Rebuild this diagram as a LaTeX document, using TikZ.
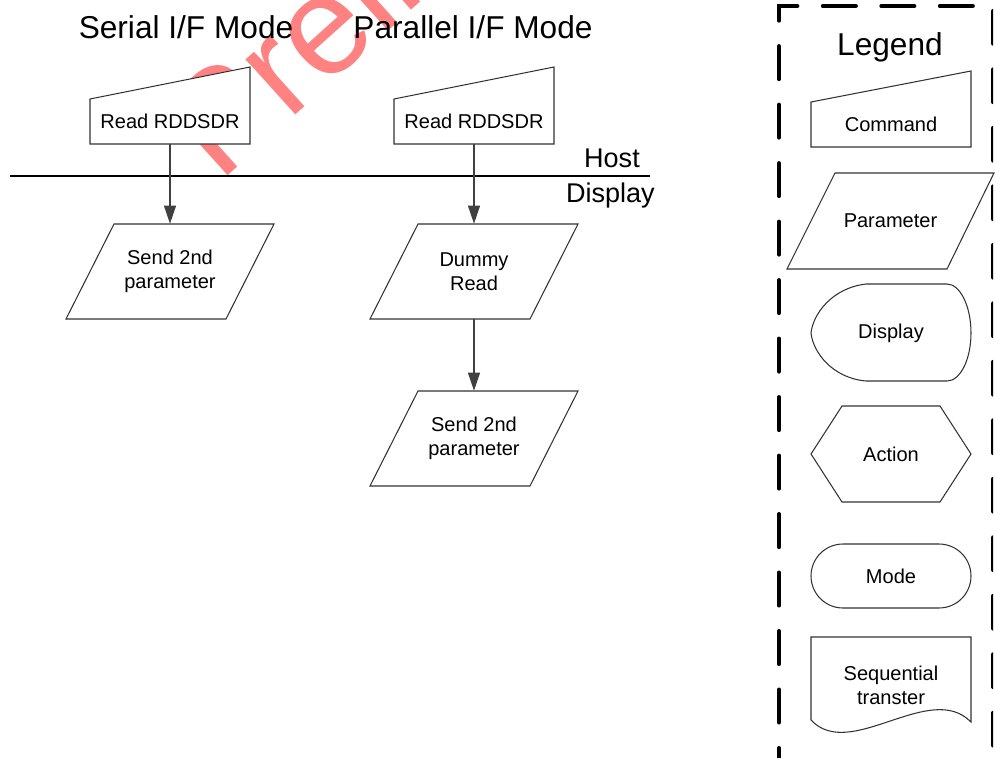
\documentclass[tikz,border=0pt]{standalone}
\usepackage{fontspec}
\setmainfont{Liberation Sans}
\usetikzlibrary{arrows.meta}
\definecolor{markred}{RGB}{255,130,130}
\newcommand\boxfont{\fontsize{11.4}{13.7}\selectfont}
\newcommand\headfont{\fontsize{18}{20}\selectfont}
\newcommand\sidefont{\fontsize{15.4}{18}\selectfont}
\tikzset{
  shape line/.style={draw=black!80,line width=0.6pt,fill=white},
  label text/.style={align=center,inner sep=0pt,font=\boxfont},
  cmdbox/.style={label text,minimum width=3.2cm,minimum height=0.9cm},
  parbox/.style={label text,minimum width=3.2cm,minimum height=1.9cm},
}

\begin{document}
\begin{tikzpicture}[x=0.02cm,y=-0.02cm,>={Triangle[length=3.6mm,width=2.4mm]},line join=miter]
\useasboundingbox (0,0) rectangle (995,758);
\begin{scope}
\clip (0,0) rectangle (993,758);
\node[text=markred,font=\fontsize{80}{80}\selectfont,rotate=42,anchor=base west,inner sep=0pt] (mark) at (219,184) {Preliminary};
\draw[line width=2.3pt,line cap=round,dash pattern=on 0.66cm off 0.51cm,dash phase=0.22cm] (779,770) -- (779,6) -- (993.5,6) -- (993.5,770);
\end{scope}
\node[font=\headfont,anchor=base] (serial) at (186,38) {Serial I/F Mode};
\node[font=\headfont,anchor=base] (parallel) at (473,38) {Parallel I/F Mode};
\draw[line width=0.8pt] (10,176) -- (650,176);
\node[font=\sidefont,anchor=base east] (host) at (646,167) {Host};
\node[font=\sidefont,anchor=base east] (disp) at (661,202) {Display};
% serial column
\draw[shape line] (90,144) -- (90,99) -- (250,67) -- (250,144) -- cycle;
\node[cmdbox] (readS) at (170,121.5) {Read RDDSDR};
\draw[shape line] (66,319) -- (114,224) -- (274,224) -- (226,319) -- cycle;
\node[parbox] (sendS) at (170,271.5) {Send 2nd\\parameter};
% parallel column
\draw[shape line] (394,144) -- (394,99) -- (554,67) -- (554,144) -- cycle;
\node[cmdbox] (readP) at (474,121.5) {Read RDDSDR};
\draw[shape line] (370,319) -- (418,224) -- (578,224) -- (530,319) -- cycle;
\node[parbox] (dummyP) at (474,271.5) {Dummy\\Read};
\draw[shape line] (370,486) -- (418,391) -- (578,391) -- (530,486) -- cycle;
\node[parbox] (sendP) at (474,438.5) {Send 2nd\\parameter};
\draw[->,black!75,line width=0.6pt] (readS) -- (sendS);
\draw[->,black!75,line width=0.6pt] (readP) -- (dummyP);
\draw[->,black!75,line width=0.6pt] (dummyP) -- (sendP);
% legend
\node[font=\headfont,anchor=base] (legend) at (890,55) {Legend};
\draw[shape line] (811,147) -- (811,102) -- (971,71) -- (971,147) -- cycle;
\node[label text] (lcmd) at (891,124.5) {Command};
\draw[shape line] (787,269) -- (835,173) -- (994,173) -- (947,269) -- cycle;
\node[label text] (lpar) at (890.5,221) {Parameter};
\draw[shape line] (866,284) -- (947,284) .. controls (960,284) and (971,306) .. (971,333)
  .. controls (971,360) and (960,381) .. (947,381) -- (866,381)
  .. controls (832,378) and (813,352) .. (811,333)
  .. controls (813,314) and (832,288) .. (866,284) -- cycle;
\node[label text] (ldisp) at (891,333) {Display};
\draw[shape line] (811,454) -- (842,406) -- (940,406) -- (971,454) -- (940,502) -- (842,502) -- cycle;
\node[label text] (lact) at (891,454) {Action};
\draw[shape line,rounded corners=0.64cm] (811,544) rectangle (971,608);
\node[label text] (lmode) at (891,576) {Mode};
\draw[shape line] (811,637) -- (971,637) -- (971,722) .. controls (930,680) and (850,762) .. (811,720) -- cycle;
\node[label text] (lseq) at (891,685) {Sequential\\transter};
\end{tikzpicture}
\end{document}
